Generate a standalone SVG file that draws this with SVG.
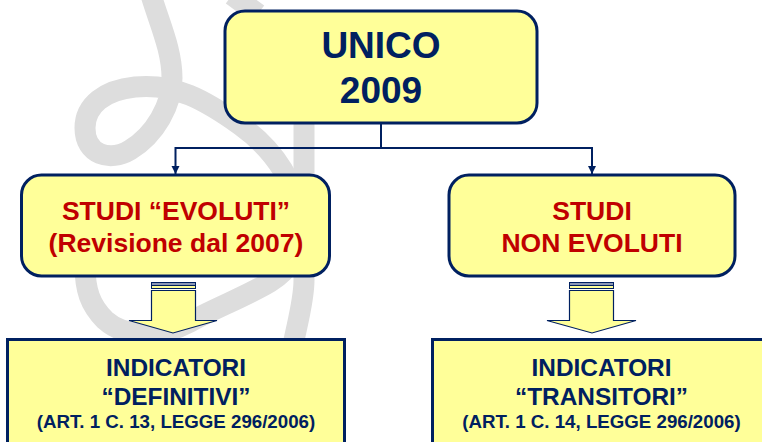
<svg xmlns="http://www.w3.org/2000/svg" width="762" height="442" viewBox="0 0 762 442">
<style>
text{font-family:"Liberation Sans",Arial,sans-serif;font-weight:bold;text-anchor:middle}
.box{fill:#ffff99;stroke:#002060;stroke-width:3}
.navy{fill:#002060}
.red{fill:#c00000}
.wm{fill:none;stroke:#dddddd;stroke-width:21}
.link{fill:none;stroke:#002060;stroke-width:2}
.arr{fill:#ffff99;stroke:#002060;stroke-width:1.200}
.cap{fill:#8b97b5;stroke:#002060;stroke-width:1}
.big{font-size:37px}
.mid{font-size:26.500px}
.ind{font-size:24.400px}
.law{font-size:18.700px}
</style>
<defs><marker id="ah" markerUnits="userSpaceOnUse" markerWidth="9" markerHeight="9" refX="8" refY="4" orient="auto"><path d="M0 0L8 4L0 8Z" fill="#002060"/></marker></defs>
<rect width="762" height="442" fill="#fff"/>
<g id="watermark">
<path class="wm" d="M151 -5C160 25 172 50 172 78C172 105 155 135 130 150C110 162 85 155 85 128C85 105 105 90 135 87C175 83 205 100 240 125C275 150 298 185 300 225C301 250 290 270 270 282C245 297 215 308 190 322C160 338 125 338 105 320C90 305 85 290 85 265"/>
<path class="wm" d="M304 120V280C304 300 298 320 293 345"/>
<path class="wm" d="M232 -5L258 14"/>
</g>
<g id="connectors">
<path class="link" d="M381 124V148"/>
<path class="link" marker-end="url(#ah)" d="M381 148H175.500V174"/>
<path class="link" marker-end="url(#ah)" d="M381 148H592V174"/>
</g>
<g id="unico"><rect class="box" x="225" y="11" width="312" height="112" rx="20"/>
<text class="navy big" x="381" y="58">UNICO</text><text class="navy big" x="381" y="103">2009</text></g>
<g id="evoluti"><rect class="box" x="21.500" y="175" width="308" height="101" rx="20"/>
<text class="red mid" x="176" y="220">STUDI “EVOLUTI”</text><text class="red mid" x="176" y="252">(Revisione dal 2007)</text></g>
<g id="nonevoluti"><rect class="box" x="449" y="175" width="286" height="101" rx="20"/>
<text class="red mid" x="592" y="220">STUDI</text><text class="red mid" x="592" y="252">NON EVOLUTI</text></g>
<g id="arrow-left">
<rect class="cap" x="151.500" y="282.500" width="44" height="3"/><rect x="151.500" y="285.500" width="44" height="3" fill="#ffff99" stroke="#002060"/>
<path class="arr" d="M151.500 290.500H195.500V320.500H217L173 333L129 320.500H151.500Z"/></g>
<g id="arrow-right">
<rect class="cap" x="569.500" y="282.500" width="44" height="3"/><rect x="569.500" y="285.500" width="44" height="3" fill="#ffff99" stroke="#002060"/>
<path class="arr" d="M569.500 290.500H613.500V320.500H636L592 333L547 320.500H569.500Z"/></g>
<g id="definitivi"><rect class="box" x="7.500" y="339.500" width="337" height="110"/>
<text class="navy ind" x="176" y="376">INDICATORI</text><text class="navy ind" x="176" y="405">“DEFINITIVI”</text><text class="navy law" x="176" y="428">(ART. 1 C. 13, LEGGE 296/2006)</text></g>
<g id="transitori"><rect class="box" x="432.500" y="339.500" width="337" height="110"/>
<text class="navy ind" x="601.500" y="376">INDICATORI</text><text class="navy ind" x="601.500" y="405">“TRANSITORI”</text><text class="navy law" x="601.500" y="428">(ART. 1 C. 14, LEGGE 296/2006)</text></g>
</svg>
